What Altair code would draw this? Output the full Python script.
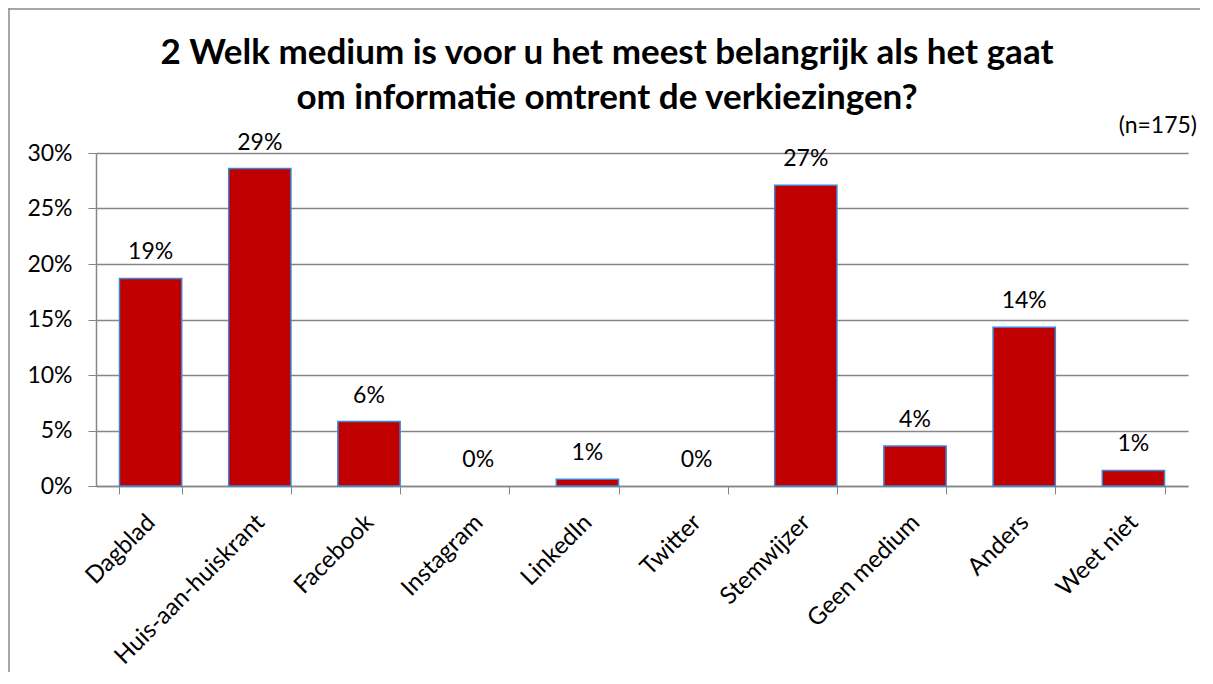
import altair as alt
import pandas as pd

categories = ["Dagblad", "Huis-aan-huiskrant", "Facebook", "Instagram", "LinkedIn",
              "Twitter", "Stemwijzer", "Geen medium", "Anders", "Weet niet"]
shares = [0.187, 0.286, 0.058, 0.0, 0.006, 0.0, 0.271, 0.036, 0.143, 0.014]
y_ticks = [0, 0.05, 0.10, 0.15, 0.20, 0.25, 0.30]
title_line1 = "2 Welk medium is voor u het meest belangrijk als het gaat"
title_line2 = "om informatie omtrent de verkiezingen?"
n_note = "(n=175)"

df = pd.DataFrame({"medium": categories, "share": shares})

FONT = "Lato"
GRID = "#868686"

x_enc = alt.X("medium:N", sort=categories, title=None,
              scale=alt.Scale(paddingInner=0.43, paddingOuter=0.215),
              axis=alt.Axis(labelAngle=-45, labelAlign="right", labelBaseline="top",
                            labelFontSize=24, labelFont=FONT, labelColor="black",
                            labelPadding=16, labelOffset=-8, labelLimit=500,
                            tickSize=8, tickColor=GRID, tickBand="extent",
                            domainColor=GRID, domainWidth=1.5, grid=False))
y_enc = alt.Y("share:Q", title=None,
              scale=alt.Scale(domain=[0, 0.3], nice=False),
              axis=alt.Axis(values=y_ticks, format=".0%", labelFontSize=23, labelFont=FONT,
                            labelColor="black", labelPadding=16, tickSize=8, tickColor=GRID,
                            domainColor=GRID, domainWidth=1.5, gridColor=GRID, gridWidth=1.5))

bars = alt.Chart(df).mark_bar(color="#C00000", stroke="#3B86D6", strokeWidth=1.5).encode(
    x=x_enc, y=y_enc).transform_filter("datum.share > 0")

labels = alt.Chart(df).mark_text(dy=-19, fontSize=23, font=FONT, color="black",
                                 baseline="alphabetic").encode(
    x=alt.X("medium:N", sort=categories),
    y=alt.Y("share:Q"),
    text=alt.Text("share:Q", format=".0%"))

note = alt.Chart(alt.Data(values=[{"t": n_note}])).mark_text(
    fontSize=23, font=FONT, color="black", align="right", baseline="alphabetic").encode(
    x=alt.value(1101), y=alt.value(-20), text="t:N")

t1 = alt.Chart(alt.Data(values=[{"t": title_line1}])).mark_text(
    fontSize=35, font=FONT, fontWeight="bold", color="black", align="center",
    baseline="alphabetic").encode(x=alt.value(511), y=alt.value(-89), text="t:N")
t2 = alt.Chart(alt.Data(values=[{"t": title_line2}])).mark_text(
    fontSize=35, font=FONT, fontWeight="bold", color="black", align="center",
    baseline="alphabetic").encode(x=alt.value(511), y=alt.value(-44), text="t:N")

border_top = alt.Chart(alt.Data(values=[{"a": 1}])).mark_rect(
    fill="#8a8a8a", strokeWidth=0).encode(
    x=alt.value(-87.75), x2=alt.value(1104), y=alt.value(-144.75), y2=alt.value(-143.25))
border_left = alt.Chart(alt.Data(values=[{"a": 1}])).mark_rect(
    fill="#8a8a8a", strokeWidth=0).encode(
    x=alt.value(-87.75), x2=alt.value(-86.25), y=alt.value(-144.75), y2=alt.value(520))

chart = alt.layer(border_top, border_left, bars, labels, note, t1, t2).properties(
    width=1092, height=333,
    autosize=alt.AutoSizeParams(type="none"),
    padding={"left": 88, "top": 145, "right": 13, "bottom": 186},
).configure_view(stroke=None)

chart.save("out.html", embed_options={"renderer": "svg", "actions": False})
